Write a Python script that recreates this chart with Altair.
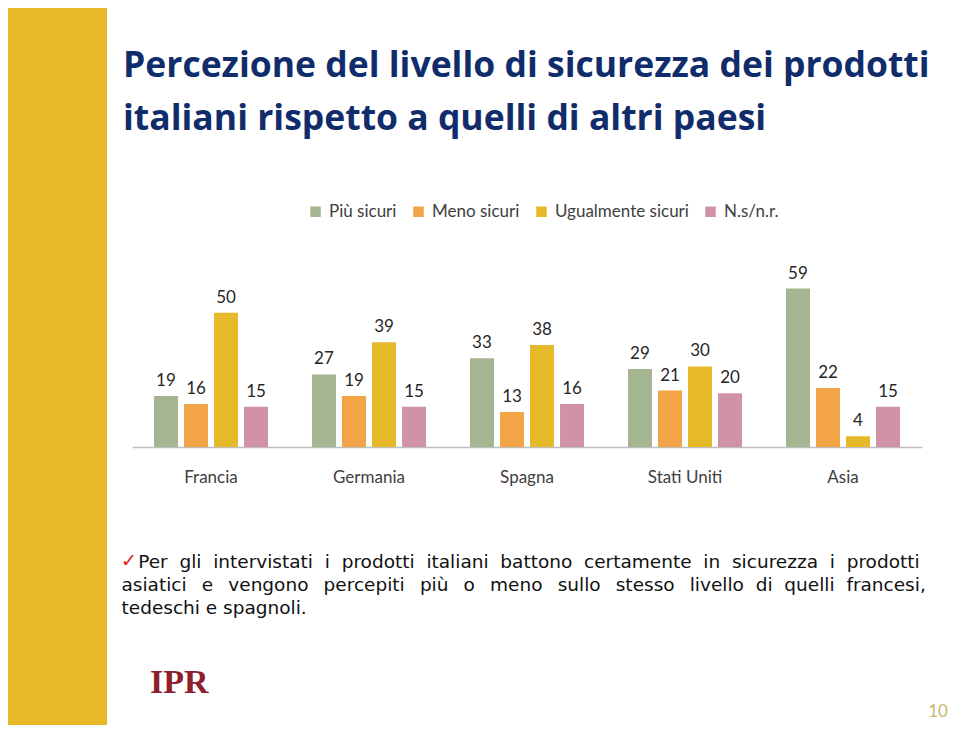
import altair as alt
import pandas as pd

# ---- data ----
countries = ["Francia", "Germania", "Spagna", "Stati Uniti", "Asia"]
series = ["Più sicuri", "Meno sicuri", "Ugualmente sicuri", "N.s/n.r."]
piu_sicuri = [19, 27, 33, 29, 59]
meno_sicuri = [16, 19, 13, 21, 22]
ugualmente_sicuri = [50, 39, 38, 30, 4]
ns_nr = [15, 15, 16, 20, 15]
series_colors = ["#A5B592", "#F3A446", "#E6B92A", "#D093A6"]

title_lines = [
    "Percezione del livello di sicurezza dei prodotti",
    "italiani rispetto a quelli di altri paesi",
]
note_words_1 = ["Per", "gli", "intervistati", "i", "prodotti", "italiani", "battono",
                "certamente", "in", "sicurezza", "i", "prodotti"]
note_words_2 = ["asiatici", "e", "vengono", "percepiti", "più", "o", "meno", "sullo",
                "stesso", "livello", "di", "quelli", "francesi,"]
note_line_3 = "tedeschi e spagnoli."
check_mark = ["✓"]
page_number = ["10"]
logo_text = ["IPR"]

# justified-looking lines (wider word gaps, as in the slide)
gap1 = " \u00a0"
gaps2 = [" \u2002"] * 9 + [" \u00a0"] * 3
line1 = "\u200b\u2002\u2009\u2009" + gap1.join(note_words_1)
line2 = note_words_2[0]
for g, w in zip(gaps2, note_words_2[1:]):
    line2 += g + w
note_lines = [line1, line2, note_line_3]

rows = []
for s, vals in zip(series, [piu_sicuri, meno_sicuri, ugualmente_sicuri, ns_nr]):
    for c, v in zip(countries, vals):
        rows.append({"Paese": c, "Serie": s, "Valore": v})
df = pd.DataFrame(rows)

x_enc = alt.X(
    "Paese:N",
    sort=countries,
    scale=alt.Scale(paddingInner=0.24, paddingOuter=0.12),
    axis=alt.Axis(
        title=note_lines,
        labelAngle=0,
        labelFont="Lato",
        labelFontSize=17,
        labelColor="#404040",
        labelPadding=22,
        ticks=False,
        grid=False,
        domainColor="#BFBFBF",
        domainWidth=1.5,
        titleFont="DejaVu Sans",
        titleFontSize=18.5,
        titleFontWeight="normal",
        titleColor="#111111",
        titleAlign="left",
        titleAnchor="start",
        titleBaseline="alphabetic",
        titleX=-11,
        titleY=120,
        titleLineHeight=23,
    ),
)
xoff_enc = alt.XOffset(
    "Serie:N", sort=series, scale=alt.Scale(paddingInner=0.2, paddingOuter=0.1)
)
y_enc = alt.Y("Valore:Q", scale=alt.Scale(domain=[0, 70]), axis=None)

band = alt.Chart(pd.DataFrame({"d": [0]})).mark_rect(color="#E7B82A").encode(
    x=alt.value(-124), x2=alt.value(-25), y=alt.value(-251), y2=alt.value(466)
)

bars = alt.Chart(df).mark_bar().encode(
    x=x_enc,
    xOffset=xoff_enc,
    y=y_enc,
    color=alt.Color(
        "Serie:N",
        sort=series,
        scale=alt.Scale(domain=series, range=series_colors),
        legend=alt.Legend(
            title=None,
            orient="none",
            legendX=175,
            legendY=-56,
            direction="horizontal",
            symbolType="square",
            symbolSize=110,
            symbolStrokeWidth=0,
            labelFont="Lato",
            labelFontSize=17,
            labelColor="#404040",
            labelOffset=5,
            columnPadding=13,
        ),
    ),
)

labels = alt.Chart(df).mark_text(
    font="Lato", fontSize=17, color="#262626", baseline="alphabetic", dy=-10
).encode(
    x=alt.X("Paese:N", sort=countries),
    xOffset=alt.XOffset("Serie:N", sort=series),
    y="Valore:Q",
    text="Valore:Q",
)

check = alt.Chart(pd.DataFrame({"t": check_mark})).mark_text(
    font="DejaVu Sans", fontSize=19, color="#E0201B", align="left", baseline="alphabetic"
).encode(x=alt.value(-11), y=alt.value(308), text="t:N")

pnum = alt.Chart(pd.DataFrame({"t": page_number})).mark_text(
    font="Lato", fontSize=17, color="#C7B76A", align="center", baseline="middle"
).encode(x=alt.value(806), y=alt.value(453), text="t:N")

logo = alt.Chart(pd.DataFrame({"t": logo_text})).mark_text(
    font="Liberation Serif", fontSize=34, fontWeight="bold", color="#8E1F2E",
    align="left", baseline="alphabetic"
).encode(x=alt.value(18), y=alt.value(434), text="t:N")

chart = (
    alt.layer(band, bars, labels, check, pnum, logo)
    .properties(
        width=790,
        height=188,
        background="white",
        padding={"left": 124, "top": 251, "right": 29, "bottom": 278},
        autosize=alt.AutoSizeParams(type="none"),
        title=alt.TitleParams(
            text=title_lines,
            anchor="start",
            frame="group",
            orient="top",
            offset=-129,
            dx=-9,
            font="Open Sans",
            fontSize=35.5,
            fontWeight="bold",
            color="#102C6A",
            lineHeight=53,
            baseline="top",
        ),
    )
    .configure_view(stroke="transparent", strokeWidth=0)
)

chart.save("out.html", embed_options={"renderer": "svg", "actions": False})
